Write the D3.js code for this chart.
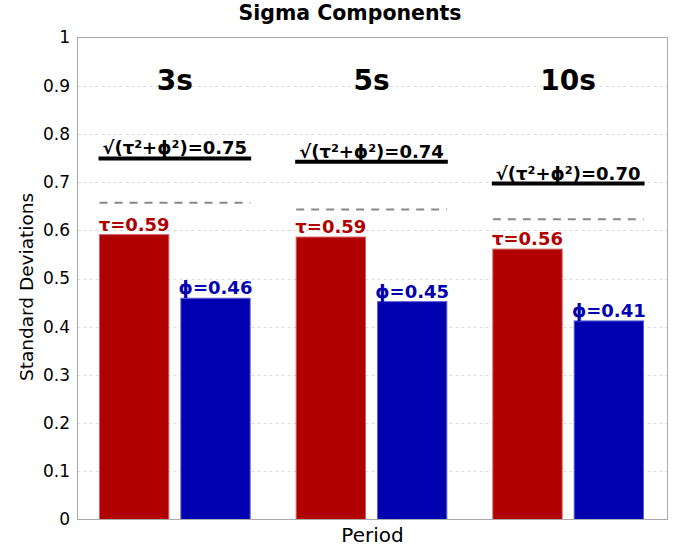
<!DOCTYPE html>
<html>
<head>
<meta charset="utf-8">
<script src="https://cdn.jsdelivr.net/npm/d3@7"></script>
<style>
  body { margin: 0; background: #fff; }
  text { font-family: 'DejaVu Sans', sans-serif; }
</style>
</head>
<body>
<svg id="chart" width="700" height="550"></svg>
<script>
var periods = ['3s', '5s', '10s'];
var tauValues = [0.591, 0.586, 0.561];
var phiValues = [0.459, 0.452, 0.412];
var totalValues = [0.749, 0.742, 0.697];
var dashedValues = [0.657, 0.643, 0.623];
var yTicks = [0, 0.1, 0.2, 0.3, 0.4, 0.5, 0.6, 0.7, 0.8, 0.9, 1];

var svg = d3.select('svg#chart');

var plotLeft = 77.5, plotRight = 667.5, plotTop = 37.5, plotBottom = 519.5;

var x0 = d3.scaleBand()
  .domain(periods)
  .range([plotLeft, plotRight]);

var x1 = d3.scaleBand()
  .domain(['tau', 'phi'])
  .range([22, x0.bandwidth() - 24])
  .paddingInner(0.148);

var y = d3.scaleLinear()
  .domain([0, 1])
  .range([plotBottom, plotTop]);

// title
svg.append('text')
  .attr('x', 350)
  .attr('y', 20)
  .attr('text-anchor', 'middle')
  .style('font-size', '20.5px')
  .style('font-weight', 'bold')
  .text('Sigma Components');

// grid
svg.selectAll('line.grid')
  .data(yTicks.slice(1, -1))
  .enter()
  .append('line')
    .attr('class', 'grid')
    .attr('x1', plotLeft)
    .attr('x2', plotRight)
    .attr('y1', function (d) { return Math.round(y(d)) + 0.5; })
    .attr('y2', function (d) { return Math.round(y(d)) + 0.5; })
    .style('stroke', '#dddddd')
    .style('stroke-dasharray', '3,3')
    .style('stroke-width', 1);

// y tick labels
svg.selectAll('text.ytick')
  .data(yTicks)
  .enter()
  .append('text')
    .attr('class', 'ytick')
    .attr('x', 70)
    .attr('y', function (d) { return y(d); })
    .attr('dy', '0.35em')
    .attr('text-anchor', 'end')
    .style('font-size', '17px')
    .text(function (d) { return d3.format('')(d); });

// axis labels
svg.append('text')
  .attr('transform', 'translate(33,287) rotate(-90)')
  .attr('text-anchor', 'middle')
  .style('font-size', '18.5px')
  .text('Standard Deviations');

svg.append('text')
  .attr('x', (plotLeft + plotRight) / 2)
  .attr('y', 542)
  .attr('text-anchor', 'middle')
  .style('font-size', '20px')
  .text('Period');

var groups = svg.selectAll('g.period')
  .data(periods)
  .enter()
  .append('g')
    .attr('class', 'period')
    .attr('transform', function (d) { return 'translate(' + x0(d) + ',0)'; });

var barData = function (d, i) {
  return [
    {key: 'tau', value: tauValues[i], fill: '#b00000', stroke: '#d06060', label: '\u03c4='},
    {key: 'phi', value: phiValues[i], fill: '#0000b0', stroke: '#6060d0', label: '\u03d5='}
  ];
};

groups.selectAll('rect')
  .data(barData)
  .enter()
  .append('rect')
    .attr('x', function (d) { return x1(d.key); })
    .attr('y', function (d) { return y(d.value); })
    .attr('width', x1.bandwidth())
    .attr('height', function (d) { return y(0) - y(d.value); })
    .style('fill', function (d) { return d.fill; })
    .style('stroke', function (d) { return d.stroke; })
    .style('stroke-width', 1);

groups.selectAll('text.barlabel')
  .data(barData)
  .enter()
  .append('text')
    .attr('class', 'barlabel')
    .attr('x', function (d) { return x1(d.key) + x1.bandwidth() / 2; })
    .attr('y', function (d) { return y(d.value) - 4; })
    .attr('text-anchor', 'middle')
    .style('font-size', '18px')
    .style('font-weight', 'bold')
    .style('fill', function (d) { return d.fill; })
    .text(function (d) { return d.label + d.value.toFixed(2); });

var lineX1 = x1('tau'), lineX2 = x1('phi') + x1.bandwidth();

// dashed reference lines
groups.append('line')
  .attr('x1', lineX1)
  .attr('x2', lineX2)
  .attr('y1', function (d, i) { return y(dashedValues[i]); })
  .attr('y2', function (d, i) { return y(dashedValues[i]); })
  .style('stroke', '#888888')
  .style('stroke-width', 2)
  .style('stroke-dasharray', '8,7');

// total lines
groups.append('line')
  .attr('x1', lineX1 - 1)
  .attr('x2', lineX2 + 1)
  .attr('y1', function (d, i) { return y(totalValues[i]); })
  .attr('y2', function (d, i) { return y(totalValues[i]); })
  .style('stroke', 'black')
  .style('stroke-width', 4);

groups.append('text')
  .attr('x', (lineX1 + lineX2) / 2)
  .attr('y', function (d, i) { return y(totalValues[i]) - 4; })
  .attr('text-anchor', 'middle')
  .style('font-size', '18px')
  .style('font-weight', 'bold')
  .text(function (d, i) { return '\u221a(\u03c4\u00b2+\u03d5\u00b2)=' + totalValues[i].toFixed(2); });

// period headings
groups.append('text')
  .attr('x', (lineX1 + lineX2) / 2)
  .attr('y', 90)
  .attr('text-anchor', 'middle')
  .style('font-size', '28px')
  .style('font-weight', 'bold')
  .text(function (d) { return d; });

// frame
svg.append('rect')
  .attr('x', plotLeft)
  .attr('y', plotTop)
  .attr('width', plotRight - plotLeft)
  .attr('height', plotBottom - plotTop)
  .style('fill', 'none')
  .style('stroke', '#aaaaaa')
  .style('stroke-width', 1);
</script>
</body>
</html>
